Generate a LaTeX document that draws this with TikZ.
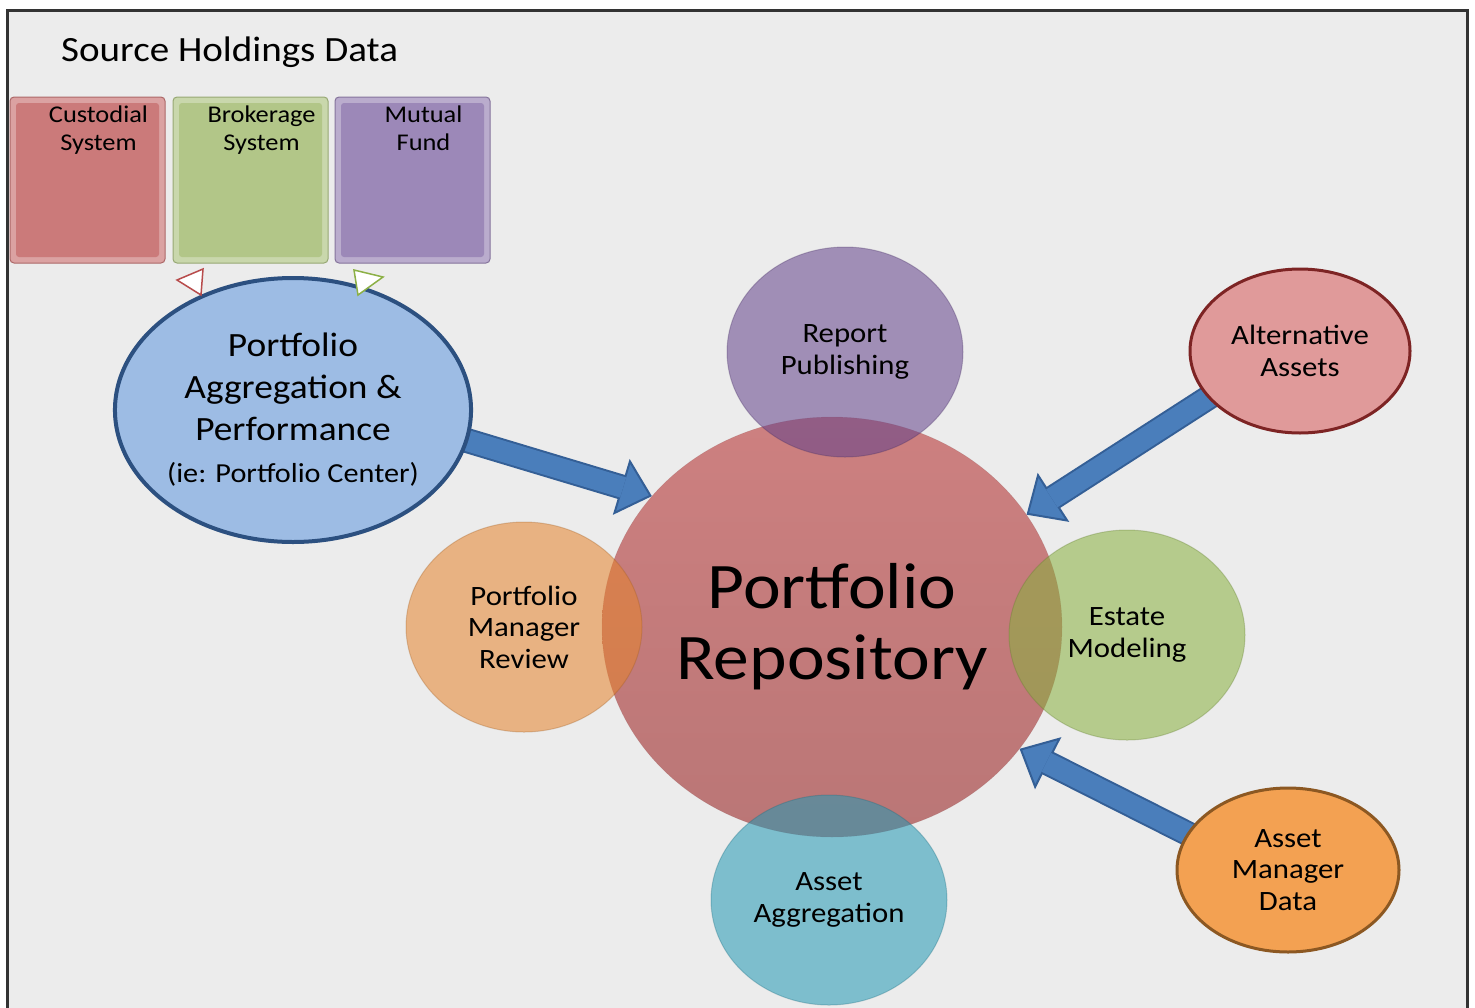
\documentclass[tikz,border=0pt]{standalone}
\usepackage{fontspec}
\setmainfont{Carlito}[FakeStretch=1.1]
\usepackage{tikz}
\usetikzlibrary{arrows.meta,positioning,calc,shapes.geometric}
\definecolor{frameC}{HTML}{333333}
\definecolor{paperC}{HTML}{ECECEC}
\definecolor{custC}{RGB}{203,122,122}
\definecolor{brokC}{RGB}{178,198,136}
\definecolor{mutC}{RGB}{156,136,184}
\definecolor{papC}{RGB}{157,188,228}
\definecolor{papEdge}{RGB}{44,80,128}
\definecolor{repoTop}{RGB}{205,128,128}
\definecolor{repoBot}{RGB}{186,118,118}
\definecolor{pubC}{RGB}{98,65,138}
\definecolor{pmrC}{RGB}{229,131,44}
\definecolor{estC}{RGB}{136,176,62}
\definecolor{aggC}{RGB}{35,153,180}
\definecolor{altC}{RGB}{224,154,154}
\definecolor{altEdge}{RGB}{125,36,36}
\definecolor{amdC}{RGB}{243,161,82}
\definecolor{amdEdge}{RGB}{140,88,34}
\definecolor{arrowC}{RGB}{74,126,187}
\definecolor{arrowEdge}{RGB}{52,95,150}
\definecolor{triRed}{RGB}{184,76,76}
\definecolor{triGreen}{RGB}{140,176,70}
\newcommand{\titlefont}{\fontsize{35.5}{40}\selectfont}
\newcommand{\boxfont}{\fontsize{24}{28}\selectfont}
\newcommand{\papfont}{\fontsize{34}{42}\selectfont}
\newcommand{\iefont}{\fontsize{27.5}{42}\selectfont}
\newcommand{\repofont}{\fontsize{65}{71}\selectfont}
\newcommand{\satfont}{\fontsize{28}{31.5}\selectfont}
\pgfdeclarelayer{back}
\pgfdeclarelayer{arrowlayer}
\pgfsetlayers{back,arrowlayer,main}
\tikzset{
  srcbox/.style={rectangle, rounded corners=4pt, draw=#1!85!black, line width=1pt,
                 fill=#1!70!white, minimum width=155pt, minimum height=166pt, inner sep=0pt,
                 path picture={\fill[#1, rounded corners=3pt]
                   ([shift={(6pt,-6pt)}]path picture bounding box.north west) rectangle
                   ([shift={(-6pt,6pt)}]path picture bounding box.south east);}},
  boxlabel/.style={anchor=north, align=center, font=\boxfont, xshift=11pt, yshift=-9pt, inner sep=0pt},
  sat/.style={ellipse, fill=#1, fill opacity=.55, draw=#1!70!black, draw opacity=.3,
              line width=1pt, text opacity=1, minimum width=236pt, minimum height=210pt,
              inner sep=0pt, align=center, font=\satfont},
  feed/.style={ellipse, fill=#1, line width=3pt, minimum height=164pt, inner sep=0pt,
               align=center, font=\satfont},
  bigarrow/.style={draw=arrowEdge, line width=25pt,
                   -{Triangle[length=32pt, width=58pt, fill=arrowC, line width=2pt]},
                   postaction={draw=arrowC, line width=21pt, arrows=-, shorten >=30pt}},
}

\begin{document}
\begin{tikzpicture}[x=1pt, y=-1pt]
  \useasboundingbox (0,0) rectangle (1475,1007);
  \begin{pgfonlayer}{back}
    \clip (0,0) rectangle (1475,1007);
    \fill[white] (0,0) rectangle (1475,1007);
    \draw[frameC, line width=3pt, fill=paperC] (7.5,10.5) rectangle (1467.5,1040);
  \end{pgfonlayer}

  % source systems
  \node[anchor=base west, font=\titlefont, inner sep=0pt] (title) at (61,61) {Source Holdings Data};
  \node[srcbox=custC, label={[boxlabel]north:Custodial\\System}] (cust) at (87.5,180) {};
  \node[srcbox=brokC, label={[boxlabel]north:Brokerage\\System}] (brok) at (250.5,180) {};
  \node[srcbox=mutC, label={[boxlabel]north:Mutual\\Fund}] (mutual) at (412.5,180) {};

  \node[ellipse, fill=papC, draw=papEdge, line width=4pt, minimum width=354pt,
        minimum height=264pt, inner sep=0pt, align=center, font=\papfont] (pap) at (293,410)
    {Portfolio\\Aggregation \&\\Performance\\{\iefont(ie: Portfolio Center)}};
  \filldraw[draw=triRed, fill=white, line width=1.5pt] (177,280) -- (203,269) -- (201,295) -- cycle;
  \filldraw[draw=triGreen, fill=white, line width=1.5pt] (354,270) -- (383,277) -- (358,295) -- cycle;

  % repository and its satellites
  \node[ellipse, top color=repoTop, bottom color=repoBot, draw=repoBot!80!black, draw opacity=.3,
        minimum width=460pt, minimum height=420pt, inner sep=0pt, align=center,
        font=\repofont] (repo) at (832,627) {Portfolio\\Repository};
  \node[sat=pubC] (pub) at (845,352) {Report\\Publishing};
  \node[sat=pmrC] (pmr) at (524,627) {Portfolio\\Manager\\Review};
  \node[sat=estC] (estate) at (1127,635) {Estate\\Modeling};
  \node[sat=aggC] (aggr) at (829,900) {Asset\\Aggregation};

  % outside feeds
  \node[feed=altC, draw=altEdge, minimum width=220pt] (alt) at (1300,351) {Alternative\\Assets};
  \node[feed=amdC, draw=amdEdge, minimum width=222pt] (amd) at (1288,870) {Asset\\Manager\\Data};

  \begin{pgfonlayer}{arrowlayer}
    \draw[bigarrow, shorten <=-30pt] (pap.-10) -- (repo.144);
    \draw[bigarrow, shorten <=-30pt] (alt.207) -- (repo.30);
    \draw[bigarrow, shorten <=-30pt] (amd.160) -- (repo.-33);
  \end{pgfonlayer}
\end{tikzpicture}
\end{document}
